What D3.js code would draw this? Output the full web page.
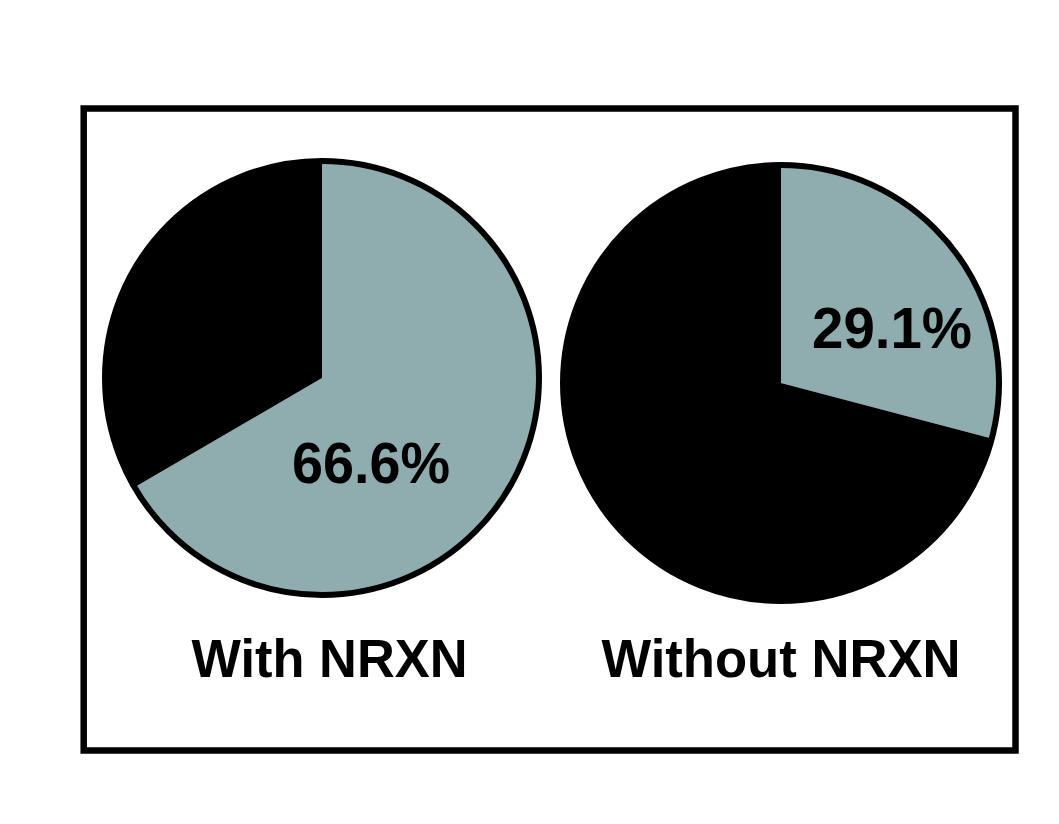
<!DOCTYPE html>
<html>
<head>
<meta charset="utf-8">
<script src="https://cdn.jsdelivr.net/npm/d3@7"></script>
<style>
	body { margin: 0; background: #fff; }
	text { font-family: Arial, "Liberation Sans", sans-serif; font-weight: bold; fill: #000; }
</style>
</head>
<body>
<svg id="chart" width="1059" height="824"></svg>
<script>
// values
let groups = ['With NRXN', 'Without NRXN'];
let gray_pct = [66.6, 29.1];
let black_pct = [33.4, 70.9];
let pct_labels = ['66.6%', '29.1%'];

let width = 1059, height = 824;
let gray = '#8fadaf';

// layout for each pie: center, radius, label offsets from center
let pie_layout = [
	{cx: 322, cy: 378, r: 217, lx: 49, ly: 105, lw: 158},
	{cx: 781, cy: 383, r: 218, lx: 111, ly: -35, lw: 160}
];
let name_y = 677, name_x = [329.5, 781], name_w = [276, 359];

let svg = d3.select('#chart');

// frame
svg.append('rect')
	.attr('x', 83.7)
	.attr('y', 108.5)
	.attr('width', 1015.5 - 83.7)
	.attr('height', 750.5 - 108.5)
	.attr('fill', 'none')
	.attr('stroke', '#000')
	.attr('stroke-width', 6.5);

let pie = d3.pie().sort(null).value(d => d.v);

groups.forEach((g, i) => {
	let lay = pie_layout[i];
	let arc = d3.arc().innerRadius(0).outerRadius(lay.r);
	let slices = pie([{k: 'gray', v: gray_pct[i]}, {k: 'black', v: black_pct[i]}]);

	let pg = svg.append('g')
		.attr('class', 'pie')
		.attr('transform', `translate(${lay.cx}, ${lay.cy})`);

	pg.selectAll('.slice')
		.data(slices)
		.enter()
		.append('path')
		.attr('class', 'slice')
		.attr('d', arc)
		.attr('fill', d => d.data.k == 'gray' ? gray : '#000');

	pg.append('circle')
		.attr('r', lay.r)
		.attr('fill', 'none')
		.attr('stroke', '#000')
		.attr('stroke-width', 6);

	pg.append('text')
		.attr('x', lay.lx)
		.attr('y', lay.ly)
		.attr('text-anchor', 'middle')
		.attr('font-size', 57)
		.attr('textLength', lay.lw)
		.attr('lengthAdjust', 'spacingAndGlyphs')
		.text(pct_labels[i]);

	svg.append('text')
		.attr('x', name_x[i])
		.attr('y', name_y)
		.attr('text-anchor', 'middle')
		.attr('font-size', 53)
		.attr('textLength', name_w[i])
		.attr('lengthAdjust', 'spacingAndGlyphs')
		.text(g);
});
</script>
</body>
</html>
